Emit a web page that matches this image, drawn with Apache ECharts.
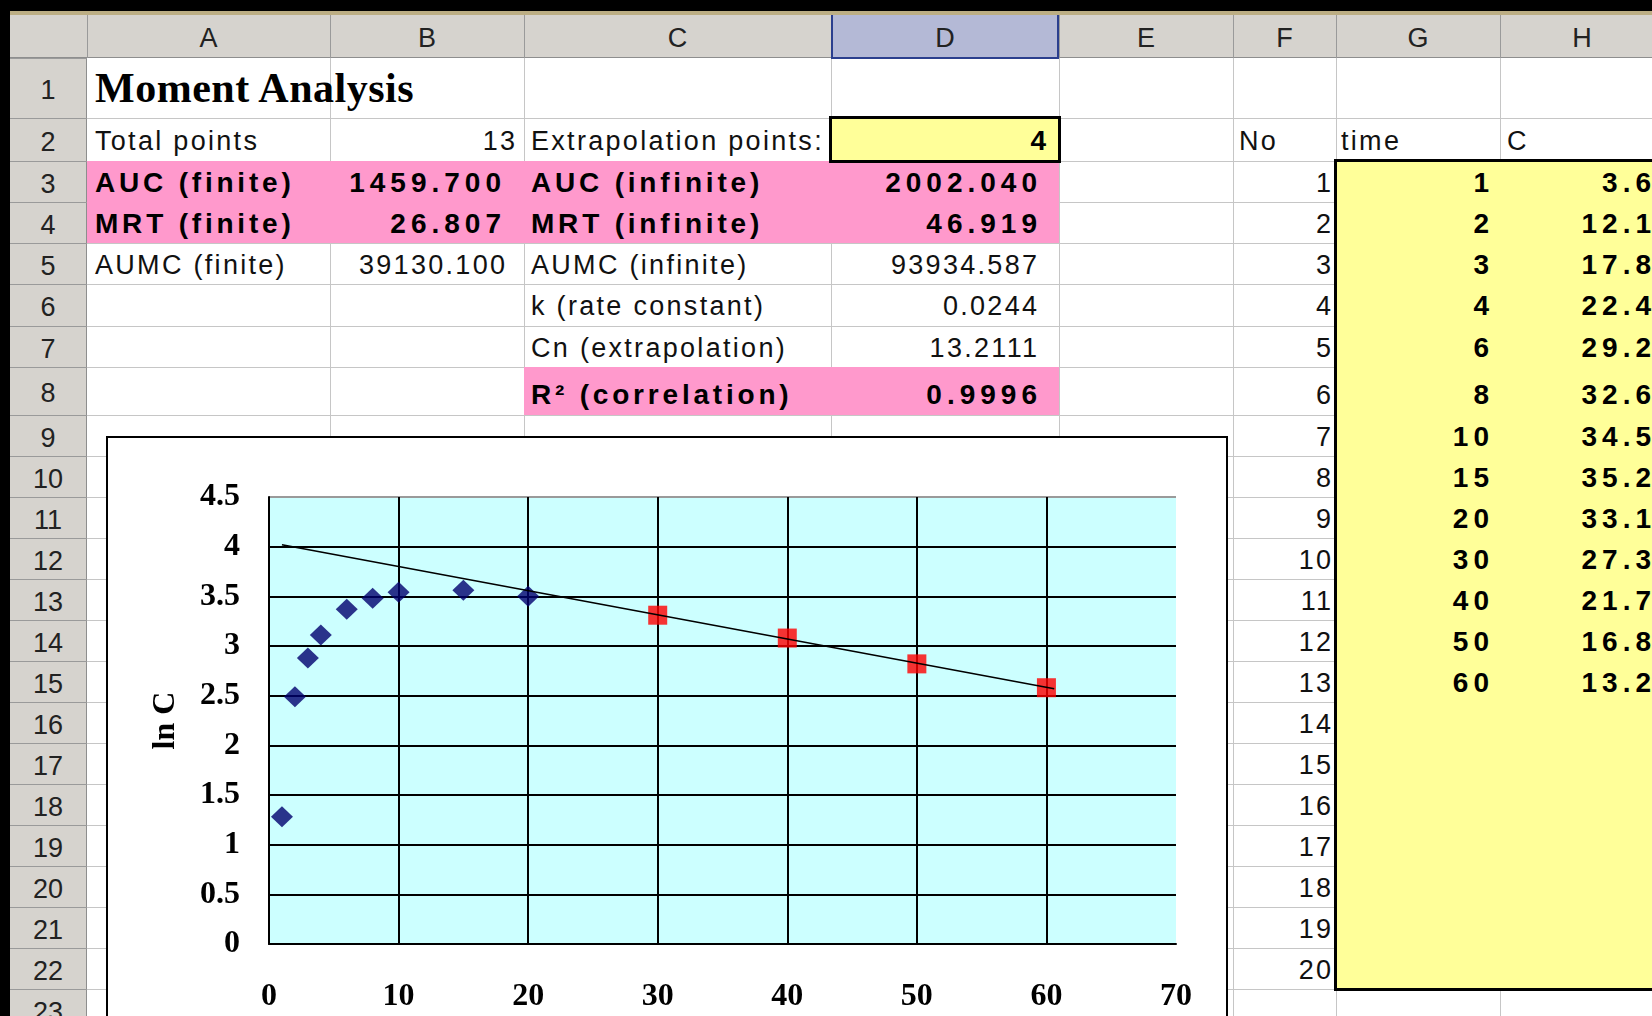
<!DOCTYPE html>
<html>
<head>
<meta charset="utf-8">
<script src="https://cdn.jsdelivr.net/npm/echarts@6.0.0/dist/echarts.min.js"></script>
<style>
  html, body { margin: 0; padding: 0; }
  body { width: 1652px; height: 1016px; background: #000; overflow: hidden; position: relative;
         font-family: 'Liberation Sans', Arial, sans-serif; }
  .box { position: absolute; box-sizing: border-box; }
  .t { position: absolute; white-space: nowrap; line-height: 1; color: #111;
       font-size: 27px; letter-spacing: 2.3px; transform: translateY(-50%); }
  .b { font-weight: bold; font-size: 28px; letter-spacing: 3.8px; color: #000; }
  .bn { font-weight: bold; font-size: 28px; letter-spacing: 5px; color: #000; }
  .hd { color: #222; letter-spacing: 0; font-size: 27px; }
  #chartWrap { position: absolute; left: 106px; top: 436px; width: 1122px; height: 620px;
               border: 2px solid #000; background: #fff; box-sizing: border-box; z-index: 5; }
  #chart { position: absolute; left: 0; top: 0; width: 1118px; height: 616px; }
</style>
</head>
<body>
<div id="chartWrap"><div id="chart"></div></div>
<script>
// ---------------- data ----------------
const timePoints = [1, 2, 3, 4, 6, 8, 10, 15, 20, 30, 40, 50, 60];
const concValues = ['3.6', '12.1', '17.8', '22.4', '29.2', '32.6', '34.5', '35.2', '33.1', '27.3', '21.7', '16.8', '13.2'];
// ln C: first 9 points (blue diamonds), last 4 (red squares, extrapolation)
const lnAbsorption = [1.28, 2.49, 2.88, 3.11, 3.37, 3.48, 3.54, 3.56, 3.50];
const lnElimination = [3.31, 3.08, 2.82, 2.58];
const fitLine = [[1, 4.02], [60.6, 2.57]];
const xAxisTicks = [0, 10, 20, 30, 40, 50, 60, 70];
const yAxisTicks = [0, 0.5, 1, 1.5, 2, 2.5, 3, 3.5, 4, 4.5];

const columnLetters = ['A', 'B', 'C', 'D', 'E', 'F', 'G', 'H'];
const summaryLeft = [
  ['Total points', '13', 'Extrapolation points:', '4'],
  ['AUC (finite)', '1459.700', 'AUC (infinite)', '2002.040'],
  ['MRT (finite)', '26.807', 'MRT (infinite)', '46.919'],
  ['AUMC (finite)', '39130.100', 'AUMC (infinite)', '93934.587'],
  ['', '', 'k (rate constant)', '0.0244'],
  ['', '', 'Cn (extrapolation)', '13.2111'],
  ['', '', 'R² (correlation)', '0.9996']
];
const tableHeaders = ['No', 'time', 'C'];
const rowNumbers = 20;

// ---------------- spreadsheet geometry ----------------
const W = 1652;
const colsX = [87, 330, 524, 831, 1059, 1233, 1336, 1500, 1700];
const rowsY = [58, 118, 161, 202, 243, 284, 326, 367, 415, 456, 497, 538, 579, 620, 661, 702, 743, 784, 825, 866, 907, 948, 989, 1030];

function box(l, t, w, h, css) {
  const d = document.createElement('div');
  d.className = 'box';
  d.style.left = l + 'px'; d.style.top = t + 'px';
  d.style.width = w + 'px'; d.style.height = h + 'px';
  Object.assign(d.style, css || {});
  document.body.appendChild(d);
  return d;
}
function txt(str, x, y, cls, align, ls) {
  const d = document.createElement('div');
  d.className = 't ' + (cls || '');
  d.textContent = str;
  d.style.top = y + 'px';
  if (align === 'right') {
    d.style.right = (W - x - (ls || 0)) + 'px';
  } else if (align === 'center') {
    d.style.left = x + 'px';
    d.style.transform = 'translate(-50%, -50%)';
  } else {
    d.style.left = x + 'px';
  }
  document.body.appendChild(d);
  return d;
}

// sheet backgrounds
box(10, 11, W - 10, 4, { background: '#BCAE84' });
box(10, 15, W - 10, 43, { background: '#D6D3CE', borderBottom: '1px solid #8E8E8E' });
box(10, 58, 77, 1016 - 58, { background: '#D6D3CE', borderRight: '1px solid #8E8E8E' });
box(87, 58, W - 87, 1016 - 58, { background: '#FFFFFF' });
// header separators
for (let i = 0; i < colsX.length; i++) {
  box(colsX[i], 15, 1, 43, { background: '#9A9A9A' });
}
for (let j = 0; j < rowsY.length; j++) {
  box(10, rowsY[j], 77, 1, { background: '#9A9A9A' });
}
// cell gridlines
for (let i = 1; i < colsX.length; i++) {
  box(colsX[i], 58, 1, 1016 - 58, { background: '#C6C6C6' });
}
for (let j = 1; j < rowsY.length; j++) {
  box(87, rowsY[j], W - 87, 1, { background: '#C6C6C6' });
}
// selected column header D
box(831, 15, 228, 44, { background: '#B4B9D6', border: '2px solid #2B3F8E', borderTop: 'none' });
// pink fills
box(87, 161, 1059 - 87, 243 - 161, { background: '#FF99CC' });
box(524, 367, 1059 - 524, 415 - 367, { background: '#FF99CC' });
// yellow input cells
box(829, 116, 232, 47, { background: '#FFFF99', border: '3px solid #000' });
box(1334, 159, 400, 832, { background: '#FFFF99', border: '3px solid #000', borderRight: 'none' });

// header texts
columnLetters.forEach((c, i) => {
  const cx = i < 7 ? (colsX[i] + colsX[i + 1]) / 2 : 1582;
  txt(c, cx, 38, 'hd', 'center');
});
for (let r = 1; r <= 23; r++) {
  txt(String(r), 48, (rowsY[r - 1] + rowsY[r]) / 2 + 2, 'hd', 'center');
}

// title
const title = txt('Moment Analysis', 95, 88, '', 'left');
Object.assign(title.style, { fontFamily: "'Liberation Serif', 'Times New Roman', serif", fontWeight: 'bold', fontSize: '42px', letterSpacing: '0.5px', color: '#000' });

// summary block
const boldRows = [1, 2, 6];
summaryLeft.forEach((row, i) => {
  const r = i + 2;
  const cy = (rowsY[r - 1] + rowsY[r]) / 2 + (r === 8 ? 4 : 1);
  const isBold = boldRows.indexOf(i) >= 0;
  if (row[0]) txt(row[0], 95, cy, isBold ? 'b' : '', 'left');
  if (row[1]) txt(row[1], isBold ? 501 : (i === 0 ? 515 : 505), cy, isBold ? 'bn' : '', 'right', isBold ? 5 : 2.3);
  if (row[2]) txt(row[2], 531, cy, isBold ? 'b' : '', 'left');
  if (row[3]) {
    if (i === 0) txt(row[3], 1046, cy, 'bn', 'right', 5);
    else txt(row[3], 1037, cy, isBold ? 'bn' : '', 'right', isBold ? 5 : 2.3);
  }
});

// data table
const cy2 = (rowsY[1] + rowsY[2]) / 2 + 1;
txt(tableHeaders[0], 1239, cy2, '', 'left');
txt(tableHeaders[1], 1341, cy2, '', 'left');
txt(tableHeaders[2], 1507, cy2, '', 'left');
for (let n = 1; n <= rowNumbers; n++) {
  const r = n + 2;
  const cy = (rowsY[r - 1] + rowsY[r]) / 2 + (r === 8 ? 4 : 1);
  txt(String(n), 1331, cy, '', 'right', 2.3);
  if (n <= timePoints.length) {
    txt(String(timePoints[n - 1]), 1489, cy, 'bn', 'right', 5);
    txt(concValues[n - 1], 1651, cy, 'bn', 'right', 5);
  }
}

// ---------------- chart ----------------
const serifBold = { fontFamily: "'Liberation Serif', 'Times New Roman', serif", fontWeight: 'bold', fontSize: 32, color: '#000' };
const chart = echarts.init(document.getElementById('chart'), null, { renderer: 'canvas' });
const ySplitColors = yAxisTicks.map((v, i) => i === yAxisTicks.length - 1 ? '#9a9a9a' : '#000');
const xSplitColors = xAxisTicks.map((v, i) => i === xAxisTicks.length - 1 ? 'rgba(0,0,0,0)' : '#000');
chart.setOption({
  animation: false,
  backgroundColor: '#fff',
  grid: { left: 161, top: 59, width: 907, height: 447, show: true, backgroundColor: '#CCFFFF', borderWidth: 0 },
  xAxis: {
    type: 'value', min: xAxisTicks[0], max: xAxisTicks[xAxisTicks.length - 1], interval: 10,
    axisLine: { show: true, onZero: false, lineStyle: { color: '#000', width: 2 } },
    axisTick: { show: false },
    splitLine: { show: true, lineStyle: { color: xSplitColors, width: 2 } },
    axisLabel: Object.assign({ margin: 37 }, serifBold)
  },
  yAxis: {
    type: 'value', min: yAxisTicks[0], max: yAxisTicks[yAxisTicks.length - 1], interval: 0.5,
    name: 'ln C', nameLocation: 'middle', nameRotate: 90, nameGap: 87,
    nameTextStyle: serifBold,
    axisLine: { show: true, onZero: false, lineStyle: { color: '#000', width: 2 } },
    axisTick: { show: false },
    splitLine: { show: true, lineStyle: { color: ySplitColors, width: 2 } },
    axisLabel: Object.assign({ margin: 29 }, serifBold)
  },
  series: [
    {
      name: 'absorption', type: 'scatter', symbol: 'diamond', symbolSize: [22, 21],
      itemStyle: { color: '#00006E' }, z: 3,
      data: lnAbsorption.map((v, i) => [timePoints[i], v])
    },
    {
      name: 'elimination', type: 'scatter', symbol: 'rect', symbolSize: 19,
      itemStyle: { color: '#FF0000' }, z: 3,
      data: lnElimination.map((v, i) => [timePoints[lnAbsorption.length + i], v])
    },
    {
      name: 'regression', type: 'line', showSymbol: false, symbol: 'none', z: 4,
      lineStyle: { color: '#000', width: 1.6 },
      data: fitLine
    }
  ]
});
</script>
</body>
</html>
